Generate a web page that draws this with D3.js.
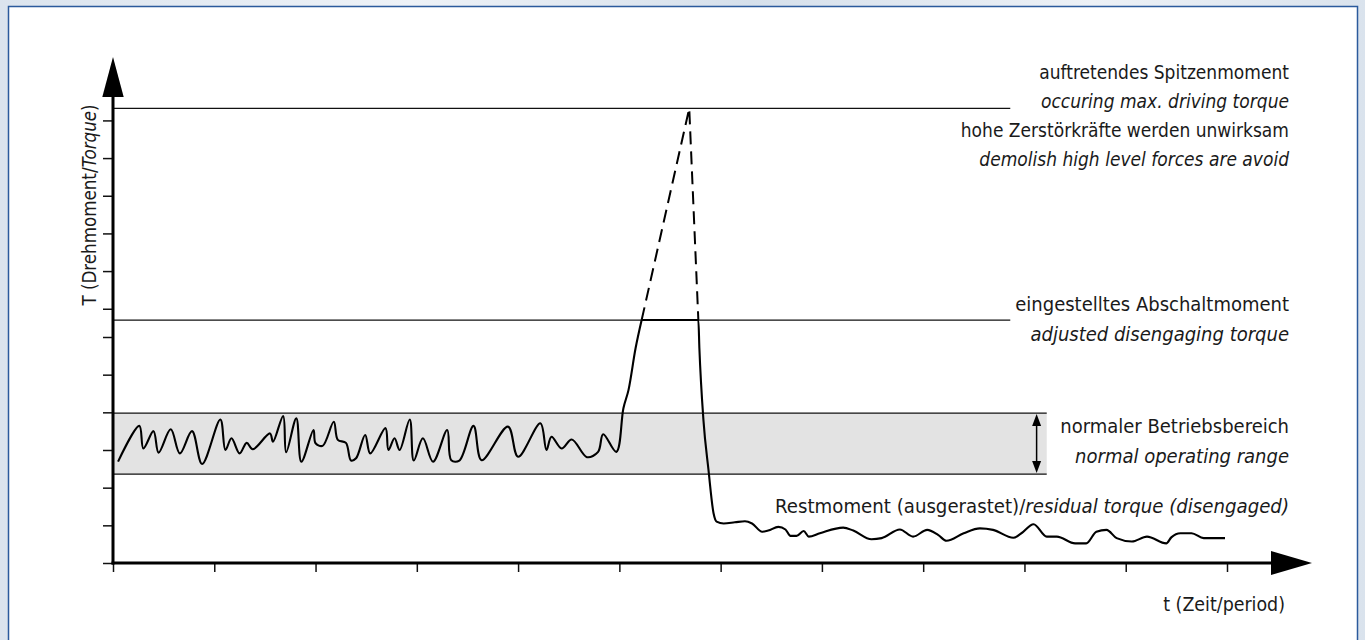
<!DOCTYPE html>
<html><head><meta charset="utf-8">
<script src="https://cdn.jsdelivr.net/npm/d3@7"></script>
<style>
html,body{margin:0;padding:0;overflow:hidden;background:#e2e9f1}
svg{display:block}
text{font-family:"Liberation Sans Narrow","Arial Narrow","DejaVu Sans Condensed",sans-serif;font-stretch:condensed;fill:#1a1a1a;font-size:20px}
</style></head><body>
<svg id="c" width="1365" height="640"></svg>
<script>
// ---- data (time units = x tick spacing, torque units = lower y tick spacing) ----
const xTickValues = [0,1,2,3,4,5,6,7,8,9,10,11];
const yTickValues = [0,1,2,3,4,5,6,6.75,7.75,8.75,9.75,10.75,11.75];

const peakTorque = 12.07;        // auftretendes Spitzenmoment
const adjustedTorque = 6.45;     // eingestelltes Abschaltmoment
const operatingRange = [2.36, 3.98];
const levelEndTime = 8.86;
const bandEndTime = 9.22;
const rangeArrowTime = 9.12;

// normal operation (noisy torque) then rise to disengaging torque
const normalTime = [0.05,0.26,0.30,0.40,0.45,0.57,0.66,0.78,0.88,1.06,1.11,1.17,1.25,1.32,1.38,1.55,1.58,1.68,1.71,1.81,1.86,1.98,2.00,2.07,2.18,2.22,2.30,2.35,2.40,2.49,2.54,2.69,2.72,2.78,2.83,2.93,2.97,3.06,3.16,3.30,3.34,3.42,3.56,3.64,3.90,4.00,4.22,4.28,4.33,4.43,4.53,4.68,4.79,4.84,4.97,5.04,5.09,5.16,5.22];
const normalTorque = [2.69,3.64,3.04,3.50,2.93,3.55,2.91,3.50,2.63,3.81,3.00,3.31,2.91,3.19,3.02,3.44,3.22,3.90,2.94,3.84,2.69,3.53,3.18,3.11,3.75,3.27,3.19,2.72,2.78,3.40,2.91,3.58,3.00,3.31,3.00,3.81,2.72,3.31,2.69,3.53,2.73,2.72,3.64,2.73,3.62,2.82,3.71,3.00,3.35,3.04,3.28,2.81,2.95,3.42,2.95,4.11,4.59,5.70,6.45];

// flat at disengaging torque, drop and residual torque
const residualTime = [5.22,5.78,5.79,5.83,5.88,5.93,5.96,6.03,6.14,6.24,6.31,6.41,6.47,6.57,6.64,6.69,6.75,6.82,6.87,6.98,7.21,7.31,7.49,7.59,7.77,7.90,8.04,8.15,8.23,8.40,8.56,8.69,8.89,8.97,9.09,9.22,9.32,9.50,9.61,9.71,9.81,9.91,10.06,10.21,10.40,10.45,10.54,10.65,10.77,10.98];
const residualTorque = [6.45,6.45,5.71,3.80,2.47,1.32,1.10,1.05,1.08,1.11,1.05,0.83,0.86,0.96,0.89,0.72,0.72,0.85,0.70,0.79,0.94,0.86,0.63,0.66,0.89,0.70,0.88,0.74,0.59,0.79,0.92,0.88,0.67,0.79,1.03,0.70,0.70,0.52,0.52,0.83,0.88,0.66,0.57,0.70,0.52,0.68,0.79,0.79,0.66,0.66];

// avoided peak (dashed)
const peakTime = [5.22,5.69,5.78];
const peakPathTorque = [6.45,12.07,6.45];

const rightLabels = [
  {text:"auftretendes Spitzenmoment", italic:false, y:12.85, sq:0.95},
  {text:"occuring max. driving torque", italic:true, y:12.08, sq:0.95},
  {text:"hohe Zerstörkräfte werden unwirksam", italic:false, y:11.31, sq:0.95},
  {text:"demolish high level forces are avoid", italic:true, y:10.54, sq:0.95},
  {text:"eingestelltes Abschaltmoment", italic:false, y:6.69, sq:1.0},
  {text:"adjusted disengaging torque", italic:true, y:5.89, sq:1.0},
  {text:"normaler Betriebsbereich", italic:false, y:3.45, sq:1.0},
  {text:"normal operating range", italic:true, y:2.66, sq:1.0}
];

// ---- drawing ----
const svg = d3.select("#c");
const W = 1365, H = 640;

const defs = svg.append("defs");
const g1 = defs.append("linearGradient").attr("id","bg").attr("x1","0").attr("y1","0").attr("x2","1").attr("y2","0");
g1.append("stop").attr("offset","0").attr("stop-color","#dbe4ee");
g1.append("stop").attr("offset","0.3").attr("stop-color","#eef2f7");
g1.append("stop").attr("offset","0.55").attr("stop-color","#d6e0eb");
g1.append("stop").attr("offset","0.8").attr("stop-color","#edf1f6");
g1.append("stop").attr("offset","1").attr("stop-color","#dae3ed");
svg.append("rect").attr("width",W).attr("height",H).attr("fill","url(#bg)");
svg.append("rect").attr("x",8.5).attr("y",6.5).attr("width",1349).attr("height",650)
  .attr("fill","#fff").attr("stroke","#2b5a9c").attr("stroke-width",1.5);

const x = d3.scaleLinear().domain([0,11]).range([113,1227]);
const y = d3.scaleLinear().domain([0,12]).range([563,111]);

// operating band
svg.append("rect").attr("x",x(0)).attr("y",y(operatingRange[1]))
  .attr("width",x(bandEndTime)-x(0)).attr("height",y(operatingRange[0])-y(operatingRange[1]))
  .attr("fill","#e3e3e3");
[operatingRange[0],operatingRange[1]].forEach(v=>{
  svg.append("line").attr("x1",x(0)).attr("x2",x(bandEndTime)).attr("y1",y(v)).attr("y2",y(v))
    .attr("stroke","#111").attr("stroke-width",1.4);
});
// torque levels
[peakTorque, adjustedTorque].forEach(v=>{
  svg.append("line").attr("x1",x(0)).attr("x2",x(levelEndTime)).attr("y1",y(v)).attr("y2",y(v))
    .attr("stroke","#111").attr("stroke-width",1.3);
});

// axes
const yAxis = d3.axisLeft(y).tickValues(yTickValues).tickSize(10).tickFormat("");
const gy = svg.append("g").attr("transform",`translate(${x(0)},0)`).call(yAxis);
gy.select(".domain").remove();
gy.selectAll(".tick line").attr("stroke","#111").attr("stroke-width",1.5);

const xAxis = d3.axisBottom(x).tickValues(xTickValues).tickSize(9).tickFormat("");
const gx = svg.append("g").attr("transform",`translate(0,${y(0)})`).call(xAxis);
gx.select(".domain").remove();
gx.selectAll(".tick line").attr("stroke","#111").attr("stroke-width",1.5);

svg.append("line").attr("x1",x(0)).attr("x2",x(0)).attr("y1",y(0)+1.5).attr("y2",95)
  .attr("stroke","#000").attr("stroke-width",3);
svg.append("path").attr("d",`M${x(0)},57 L${x(0)-10.7},97 L${x(0)+10.7},97 Z`).attr("fill","#000");
svg.append("line").attr("x1",x(0)-1.5).attr("x2",1274).attr("y1",y(0)).attr("y2",y(0))
  .attr("stroke","#000").attr("stroke-width",3);
svg.append("path").attr("d",`M1312,${y(0)} L1271,${y(0)-12} L1271,${y(0)+12} Z`).attr("fill","#000");

// curves
const smooth = d3.line().x(d=>x(d[0])).y(d=>y(d[1])).curve(d3.curveCatmullRom.alpha(0.5));
const mono = d3.line().x(d=>x(d[0])).y(d=>y(d[1])).curve(d3.curveMonotoneX);
svg.append("path").datum(normalTime.map((t,i)=>[t,normalTorque[i]]))
  .attr("d",smooth).attr("fill","none").attr("stroke","#000").attr("stroke-width",2.1).attr("stroke-linejoin","round");
svg.append("path").datum(residualTime.map((t,i)=>[t,residualTorque[i]]))
  .attr("d",mono).attr("fill","none").attr("stroke","#000").attr("stroke-width",2.1).attr("stroke-linejoin","round");
svg.append("path").datum(peakTime.map((t,i)=>[t,peakPathTorque[i]]))
  .attr("d",d3.line().x(d=>x(d[0])).y(d=>y(d[1]))).attr("fill","none").attr("stroke","#000")
  .attr("stroke-width",2).attr("stroke-dasharray","13,7");

// range double arrow
const ax = x(rangeArrowTime), at = y(operatingRange[1]), ab = y(operatingRange[0]);
svg.append("line").attr("x1",ax).attr("x2",ax).attr("y1",at+8).attr("y2",ab-8).attr("stroke","#000").attr("stroke-width",1.5);
svg.append("path").attr("d",`M${ax},${at+1} L${ax-4.5},${at+13} L${ax+4.5},${at+13} Z`).attr("fill","#000");
svg.append("path").attr("d",`M${ax},${ab-1} L${ax-4.5},${ab-13} L${ax+4.5},${ab-13} Z`).attr("fill","#000");

// texts
const textRight = 1289;
function txt(px, py, anchor, extra, sq){
  return svg.append("text").attr("transform",`translate(${px},${py}) ${extra||""} scale(${sq},1)`)
    .attr("text-anchor",anchor);
}
rightLabels.forEach(l=>{
  txt(textRight, y(l.y), "end", "", l.sq).style("font-style",l.italic?"italic":"normal").text(l.text);
});
const rt = txt(textRight, y(1.33), "end", "", 1.01);
rt.append("tspan").text("Restmoment (ausgerastet)/");
rt.append("tspan").style("font-style","italic").text("residual torque (disengaged)");

txt(1285, 611, "end", "", 0.97).text("t (Zeit/period)");

const yl = txt(96, 205, "middle", "rotate(-90)", 0.93);
yl.append("tspan").text("T (Drehmoment/");
yl.append("tspan").style("font-style","italic").text("Torque");
yl.append("tspan").text(")");
</script>
</body></html>
